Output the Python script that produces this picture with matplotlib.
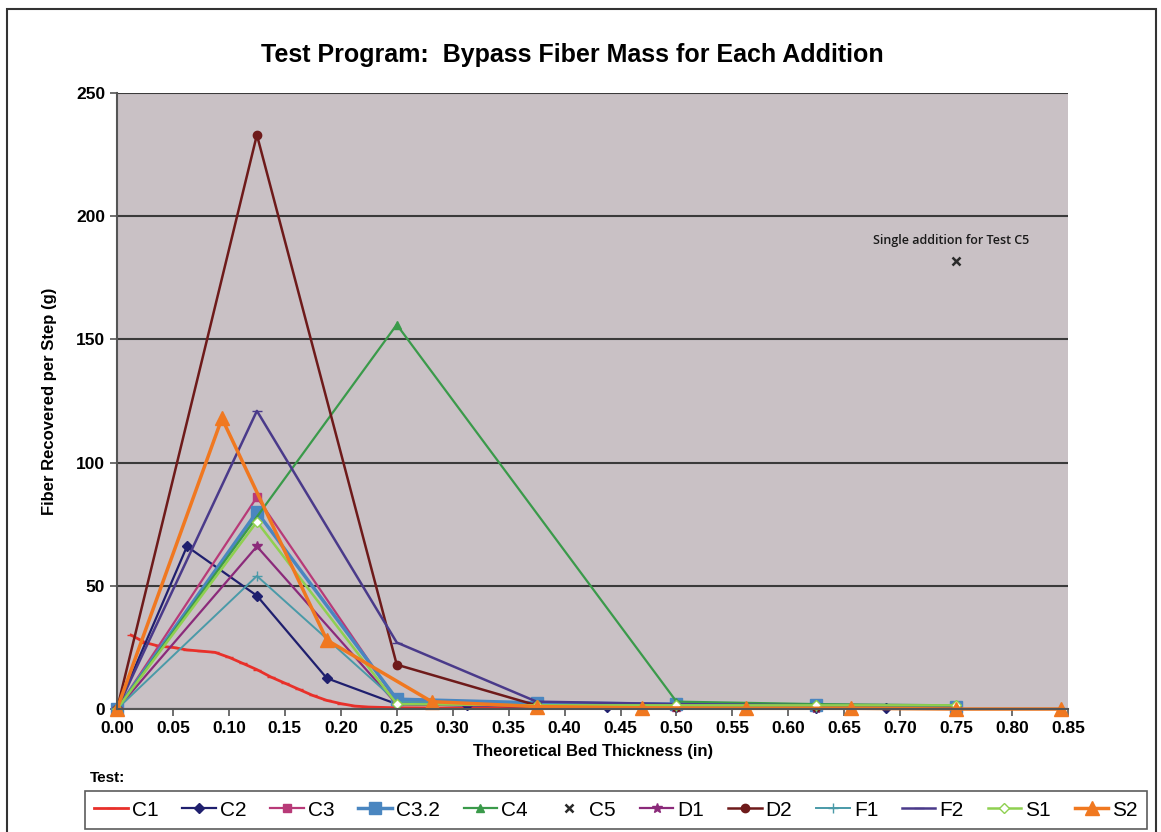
import numpy as np
import matplotlib
matplotlib.use('Agg')
import matplotlib.pyplot as plt
from matplotlib.patches import Rectangle

plt.rcParams['font.family'] = ['Liberation Sans', 'DejaVu Sans']

# step positions (in) for the usual 1/8 in additions
x8 = [0, 0.125, 0.25, 0.375, 0.5, 0.625, 0.75]

c1_x = [0.0125, 0.025, 0.0375, 0.05, 0.0625, 0.075, 0.0875, 0.1, 0.1125, 0.125,
        0.1375, 0.15, 0.1625, 0.175, 0.1875, 0.2, 0.2125, 0.225, 0.25,
        0.3, 0.4, 0.5, 0.6, 0.7, 0.75]
c1_y = [30, 27, 25.5, 25, 24, 23.5, 23, 21, 18.5, 16,
        13, 10.5, 8, 5.5, 3.5, 2.2, 1.2, 0.8, 0.5,
        0.4, 0.3, 0.3, 0.3, 0.3, 0.3]

c2_x = [0, 0.0625, 0.125, 0.1875, 0.25, 0.3125, 0.375, 0.4375, 0.5, 0.5625,
        0.625, 0.6875, 0.75]
c2_y = [0, 66, 46, 12.5, 2, 1.5, 1, 1, 0.8, 0.7, 0.6, 0.5, 0.5]

c3_y = [0, 86, 3, 1.5, 1, 1, 0.5]
c32_y = [0, 80, 4, 2.5, 2, 1.5, 1]

c4_x = [0, 0.25, 0.5, 0.625, 0.75]
c4_y = [0, 156, 3, 2, 1.5]

c5_x = [0.75]
c5_y = [182]

d1_y = [0, 66, 2, 1, 1, 0.5, 0.5]
d2_y = [0, 233, 18, 1.5, 1, 1, 0.5]
f1_y = [0, 54, 3, 1.5, 1, 1, 1]
f2_y = [0, 121, 27, 3, 2, 1.5, 1]
s1_y = [0, 76, 2, 1.5, 1.5, 1.5, 1.5]

s2_x = [0, 0.09375, 0.1875, 0.28125, 0.375, 0.46875, 0.5625, 0.65625, 0.75, 0.84375]
s2_y = [0, 118, 28, 3, 1, 0.5, 0.3, 0.3, 0, 0]

fig = plt.figure(figsize=(11.61, 8.32), dpi=100)
ax = fig.add_axes([0.1008, 0.1478, 0.8192, 0.7404])
ax.set_facecolor('#c9c1c5')

ax.plot(c1_x, c1_y, color='#e8302a', lw=2, marker='_', ms=6, label='C1', clip_on=False)
ax.plot(c2_x, c2_y, color='#1f1f6e', lw=1.6, marker='D', ms=5, label='C2', clip_on=False)
ax.plot(x8, c3_y, color='#b83a78', lw=1.6, marker='s', ms=6, label='C3', clip_on=False)
ax.plot(x8, c32_y, color='#4a86c0', lw=2.5, marker='s', ms=8, label='C3.2', clip_on=False)
ax.plot(c4_x, c4_y, color='#3a9a4a', lw=1.6, marker='^', ms=6, label='C4', clip_on=False)
ax.plot(c5_x, c5_y, color='#2a2a2a', lw=0, marker='x', ms=6, mew=1.8, label='C5')
ax.plot(x8, d1_y, color='#8b2a7a', lw=1.6, marker='*', ms=7, label='D1', clip_on=False)
ax.plot(x8, d2_y, color='#6e1a1a', lw=1.8, marker='o', ms=6, label='D2', clip_on=False)
ax.plot(x8, f1_y, color='#4a9aa8', lw=1.4, marker='+', ms=7, label='F1', clip_on=False)
ax.plot(x8, f2_y, color='#4a3a8a', lw=1.8, marker='_', ms=7, label='F2', clip_on=False)
ax.plot(x8, s1_y, color='#8fd050', lw=1.8, marker='D', ms=5, mfc='white', label='S1', clip_on=False)
ax.plot(s2_x, s2_y, color='#f07820', lw=2.5, marker='^', ms=10, label='S2', clip_on=False)

ax.text(0.745, 190, 'Single addition for Test C5', ha='center', va='center',
        fontsize=9, family=['Open Sans', 'DejaVu Sans'], weight='semibold', color='#1a1a1a')

ax.set_xlim(0, 0.85)
ax.set_ylim(0, 250)
ax.set_xticks(np.arange(0, 0.851, 0.05))
ax.set_xticklabels(['%.2f' % v for v in np.arange(0, 0.851, 0.05)])
ax.set_yticks([0, 50, 100, 150, 200, 250])
ax.yaxis.grid(True, color='#3a3a3a', lw=1.5)
ax.set_axisbelow(True)
for s in ['top', 'right']:
    ax.spines[s].set_visible(False)
for s in ['left', 'bottom']:
    ax.spines[s].set_color('#555555')
    ax.spines[s].set_linewidth(1.5)
ax.tick_params(axis='both', direction='out', length=5, width=1.2, color='#555555',
               labelsize=12.5)
for lab in ax.get_xticklabels() + ax.get_yticklabels():
    lab.set_fontweight('bold')

ax.set_xlabel('Theoretical Bed Thickness (in)', fontsize=12, weight='bold', labelpad=6)
ax.set_ylabel('Fiber Recovered per Step (g)', fontsize=12, weight='bold', labelpad=14)
fig.text(0.493, 0.934, 'Test Program:  Bypass Fiber Mass for Each Addition',
         ha='center', va='center', fontsize=18, weight='bold')

fig.text(90 / 1161, 1 - 778 / 832, 'Test:', ha='left', va='center', fontsize=11, weight='bold')
leg = fig.legend(loc='lower left', bbox_to_anchor=(85 / 1161, 3 / 832), ncol=12,
                 fontsize=15, frameon=True, fancybox=False, handlelength=1.6,
                 handletextpad=0.2, columnspacing=1.15, borderpad=0.45, borderaxespad=0)
leg.get_frame().set_edgecolor('#333333')
leg.get_frame().set_linewidth(1.2)

fig.patches.append(Rectangle((0.006, -0.01), 0.99, 0.999, transform=fig.transFigure,
                             fill=False, ec='#333333', lw=1.5))

fig.savefig('out.png', dpi=100)
